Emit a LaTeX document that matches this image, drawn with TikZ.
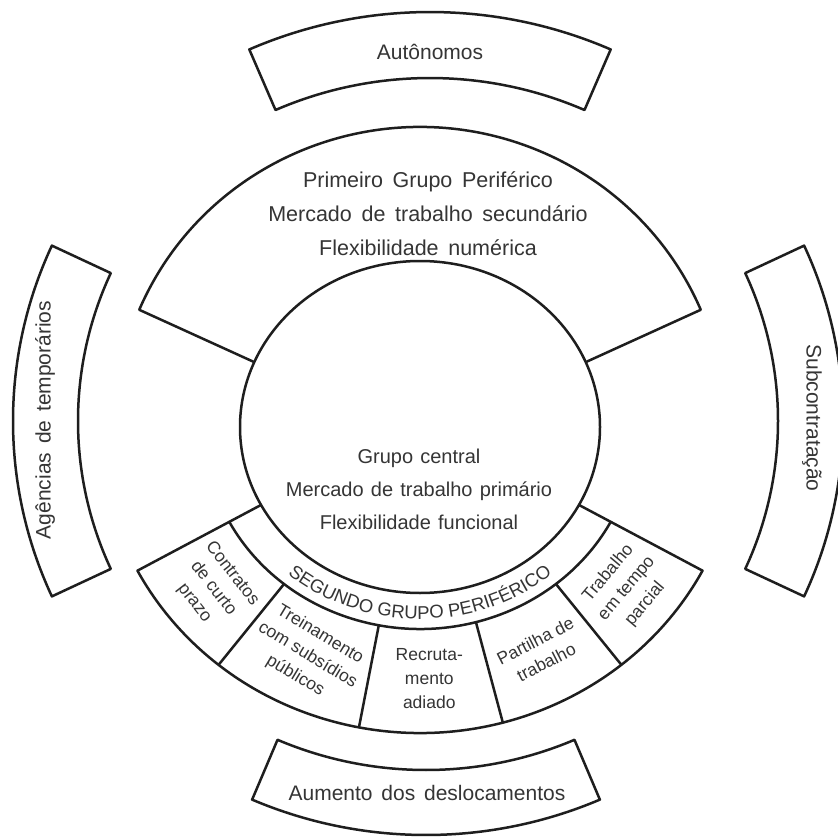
\documentclass[tikz,border=0pt]{standalone}
\usepackage{fontspec}
\setmainfont{Liberation Sans}
\usetikzlibrary{decorations.text}
\definecolor{ink}{HTML}{353535}
\definecolor{stroke}{HTML}{1E1E1E}
\newcommand{\lblfont}{\fontsize{21}{34}\selectfont\spaceskip=0.42em\relax}
\newcommand{\primfont}{\fontsize{21.5}{34}\selectfont\spaceskip=0.45em\relax}
\newcommand{\ctrfont}{\fontsize{20}{33}\selectfont\spaceskip=0.36em\relax}
\newcommand{\smlfont}{\fontsize{17.5}{24}\selectfont}
\begin{document}
\begin{tikzpicture}[x=1pt,y=1pt,line join=round,
  box/.style={draw=stroke,line width=2.5pt},
  lbl/.style={text=ink,font=\lblfont,align=center,inner sep=0pt},
  ctr/.style={text=ink,font=\ctrfont,align=center,inner sep=0pt},
  sml/.style={text=ink,font=\smlfont,align=center,inner sep=0pt}]
\useasboundingbox (0,0) rectangle (838,-837);
\fill[white] (0,0) rectangle (838,-837);

% outer boxes
\begin{scope}[shift={(430,-467)}]
  \draw[box] (66.6:389pt) arc[start angle=66.6,end angle=113.4,radius=389pt]
    -- (113.4:455pt) arc[start angle=113.4,end angle=66.6,radius=455pt] -- cycle;
\end{scope}
\begin{scope}[shift={(426,-390)}]
  \draw[box] (247:380pt) arc[start angle=247,end angle=293,radius=380pt]
    -- (293:445pt) arc[start angle=293,end angle=247,radius=445pt] -- cycle;
\end{scope}
\begin{scope}[shift={(428,-421)}]
  \draw[box] (155:350pt) arc[start angle=155,end angle=205,radius=350pt]
    -- (205:415pt) arc[start angle=205,end angle=155,radius=415pt] -- cycle;
  \draw[box] (-25:350pt) arc[start angle=-25,end angle=25,radius=350pt]
    -- (25:415pt) arc[start angle=25,end angle=-25,radius=415pt] -- cycle;
\end{scope}

\node[lbl] (auto) at (430,-52) {Autônomos};
\node[lbl] (aum) at (427,-793) {Aumento dos deslocamentos};
\node[lbl,rotate=90] (age) at (45,-420) {Agências de temporários};
\node[lbl,rotate=-90] (sub) at (812,-418) {Subcontratação};

% main figure
\begin{scope}[shift={(420,-427)}]
  \draw[box] (0,0) ellipse[x radius=180pt,y radius=166pt];
  \draw[box] (157:180pt and 166pt) -- (157:305pt and 300pt)
    arc[start angle=157,end angle=23,x radius=305pt,y radius=300pt] -- (23:180pt and 166pt);
  \draw[box] (208:180pt and 166pt) -- (208:320pt and 306pt)
    arc[start angle=208,end angle=332,x radius=320pt,y radius=306pt] -- (332:180pt and 166pt);
  \draw[box] (208:216pt and 202pt) arc[start angle=208,end angle=332,x radius=216pt,y radius=202pt];
  \foreach \a in {231,259,285,309} \draw[box] (\a:216pt and 202pt) -- (\a:320pt and 306pt);
  \path[decorate,decoration={text along path,text align=center,text color=ink,
      text={|\fontsize{18.5}{20}\selectfont|SEGUNDO GRUPO PERIFÉRICO}}]
    (210:206pt and 192pt) arc[start angle=210,end angle=330,x radius=206pt,y radius=192pt];
  \node[sml,rotate=-52] (con) at (219.5:268pt and 254pt) {Contratos\\de curto\\prazo};
  \node[sml,rotate=-31] (tre) at (245:266pt and 252pt) {Treinamento\\com subsídios\\públicos};
  \node[sml] (rec) at (272:266pt and 252pt) {Recruta-\\mento\\adiado};
  \node[sml,rotate=27] (par) at (297:266pt and 252pt) {Partilha de\\trabalho};
  \node[sml,rotate=50] (tra) at (320.5:268pt and 254pt) {Trabalho\\em tempo\\parcial};
\end{scope}

\node[lbl,font=\primfont] (prim) at (428,-214) {Primeiro Grupo Periférico\\Mercado de trabalho secundário\\Flexibilidade numérica};
\node[ctr] (cent) at (419,-489) {Grupo central\\Mercado de trabalho primário\\Flexibilidade funcional};
\end{tikzpicture}
\end{document}
